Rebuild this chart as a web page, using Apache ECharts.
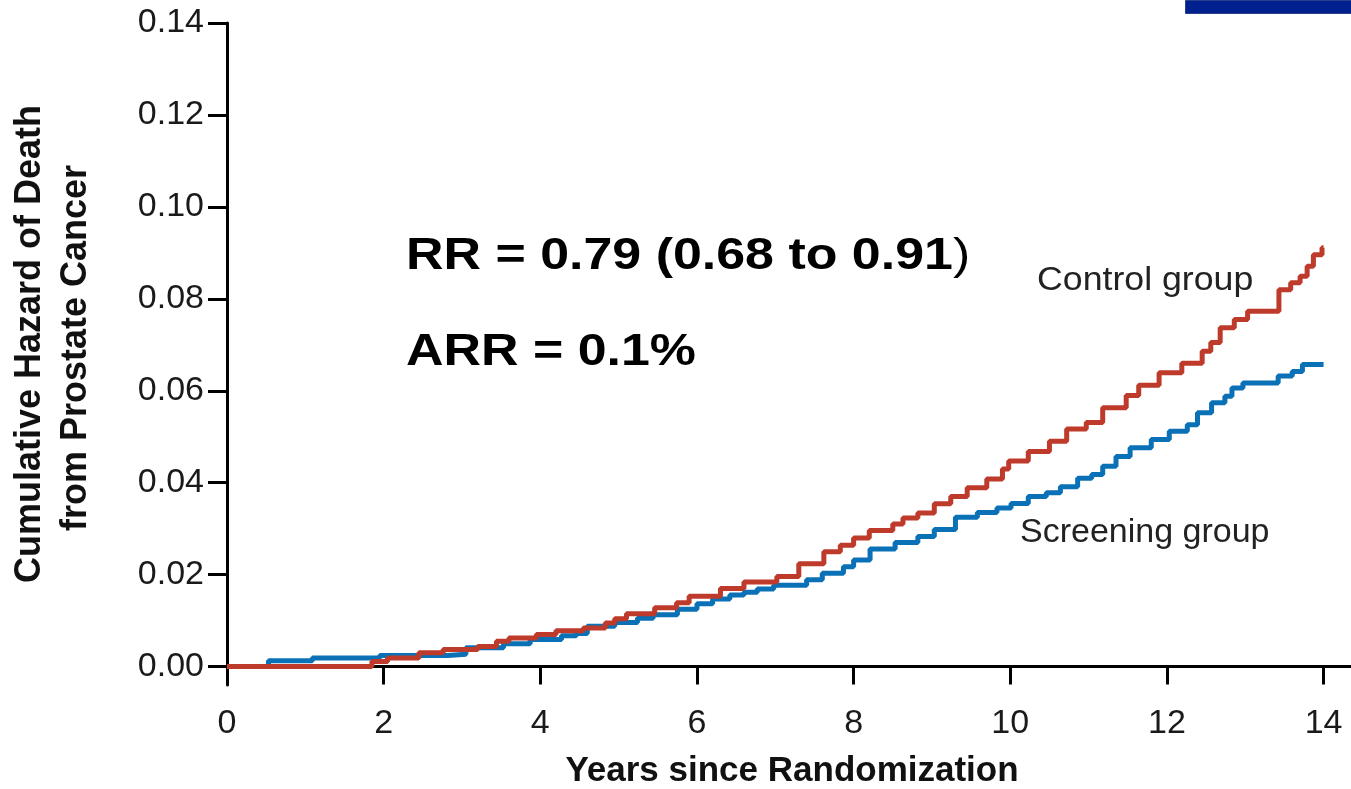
<!DOCTYPE html>
<html>
<head>
    <meta charset="utf-8">
    <title>Cumulative Hazard of Death from Prostate Cancer</title>
    <script src="https://cdn.jsdelivr.net/npm/echarts@6.0.0/dist/echarts.min.js"></script>
    <style>
        html, body { margin: 0; padding: 0; background: #fff; }
        #chart { width: 1351px; height: 789px; }
    </style>
</head>
<body>
<div id="chart"></div>
<script>
    // tick labels
    var xTicks = [0, 2, 4, 6, 8, 10, 12, 14];
    var yTicks = [0, 0.02, 0.04, 0.06, 0.08, 0.10, 0.12, 0.14];

    // control group: step start (years) and cumulative hazard from there on
    var controlYears = [0, 1.85, 2.05, 2.45, 2.76, 3.2, 3.44, 3.6, 3.95, 4.2, 4.55, 4.83, 4.95, 5.1, 5.46, 5.74,
        5.9, 6.3, 6.6, 7.02, 7.3, 7.62, 7.83, 8.0, 8.2, 8.5, 8.63, 8.82, 9.03, 9.24, 9.45, 9.7, 9.9, 9.98,
        10.23, 10.5, 10.72, 10.97, 11.18, 11.48, 11.64, 11.9, 12.19, 12.45, 12.56, 12.68, 12.86, 13.03,
        13.43, 13.58, 13.7, 13.79, 13.87, 13.98, 14.0];
    var controlHazard = [0, 0.0011, 0.0019, 0.0030, 0.0037, 0.0044, 0.0055, 0.0062, 0.0070, 0.0078, 0.0084, 0.0095, 0.0104, 0.0115, 0.0128, 0.0139,
        0.0153, 0.0170, 0.0184, 0.0196, 0.0224, 0.0250, 0.0264, 0.0280, 0.0296, 0.0310, 0.0323, 0.0334, 0.0354, 0.0370, 0.0389, 0.0408, 0.0430, 0.0447,
        0.0468, 0.0490, 0.0517, 0.0531, 0.0563, 0.0590, 0.0612, 0.0639, 0.0660, 0.0686, 0.0705, 0.0737, 0.0755, 0.0773,
        0.0820, 0.0835, 0.0849, 0.0871, 0.0896, 0.0911, 0.0911];

    // screening group
    var screeningYears = [0, 0.53, 1.09, 1.95, 2.82, 3.05, 3.53, 3.87, 4.27, 4.46, 4.6, 4.95, 5.24, 5.44, 5.75, 6.0,
        6.2, 6.42, 6.6, 6.77, 6.98, 7.4, 7.6, 7.87, 8.0, 8.21, 8.53, 8.82, 9.03, 9.3, 9.58, 9.83, 10.01,
        10.23, 10.46, 10.64, 10.86, 11.04, 11.18, 11.35, 11.53, 11.8, 12.03, 12.26, 12.39, 12.57, 12.74,
        12.83, 12.97, 13.42, 13.6, 13.73, 14.0];
    var screeningHazard = [0, 0.0013, 0.0019, 0.0024, 0.0027, 0.0041, 0.0050, 0.0059, 0.0067, 0.0072, 0.0088, 0.0096, 0.0105, 0.0113, 0.0125, 0.0137,
        0.0147, 0.0156, 0.0162, 0.0169, 0.0177, 0.0189, 0.0203, 0.0217, 0.0232, 0.0256, 0.0270, 0.0283, 0.0298, 0.0325, 0.0335, 0.0345, 0.0355,
        0.0370, 0.0378, 0.0391, 0.0410, 0.0418, 0.0436, 0.0457, 0.0476, 0.0494, 0.0512, 0.0526, 0.0552, 0.0574, 0.0588,
        0.0606, 0.0617, 0.0632, 0.0642, 0.0657, 0.0657];

    function pairs(xs, ys) {
        return xs.map(function (x, i) { return [x, ys[i]]; });
    }

    var myChart = echarts.init(document.getElementById('chart'), null, {renderer: 'canvas'});

    var axisFont = 'Liberation Sans, Arial, sans-serif';

    var option = {
        animation: false,
        backgroundColor: '#fff',
        grid: {
            left: 227, right: 0, top: 23, bottom: 104,
            containLabel: false,
            outerBoundsMode: 'none'
        },
        xAxis: {
            type: 'value',
            min: 0,
            max: 14.35,
            axisLine: {show: true, onZero: true, lineStyle: {color: '#000', width: 3}},
            axisTick: {show: true, length: 18, customValues: xTicks, lineStyle: {color: '#000', width: 3}},
            axisLabel: {
                customValues: xTicks,
                margin: 22,
                color: '#1a1a1a',
                fontFamily: axisFont,
                fontSize: 34
            },
            splitLine: {show: false}
        },
        yAxis: {
            type: 'value',
            min: -0.004,
            max: 0.14,
            axisLine: {show: true, onZero: false, lineStyle: {color: '#000', width: 3}},
            axisTick: {show: true, length: 19, customValues: yTicks, lineStyle: {color: '#000', width: 3}},
            axisLabel: {
                customValues: yTicks,
                margin: 23,
                color: '#1a1a1a',
                fontFamily: axisFont,
                fontSize: 34,
                formatter: function (v) { return v.toFixed(2); }
            },
            splitLine: {show: false}
        },
        series: [
            {
                name: 'Screening group',
                type: 'line',
                step: 'end',
                showSymbol: false,
                data: pairs(screeningYears, screeningHazard),
                lineStyle: {color: '#0a71b6', width: 5},
                itemStyle: {color: '#0a71b6'}
            },
            {
                name: 'Control group',
                type: 'line',
                step: 'end',
                showSymbol: false,
                data: pairs(controlYears, controlHazard),
                lineStyle: {color: '#be3a2b', width: 5},
                itemStyle: {color: '#be3a2b'}
            }
        ],
        graphic: [
            // blue bar cut off at the top right
            {type: 'rect', left: 1185, top: 0, shape: {width: 166, height: 13}, style: {fill: '#00208f', stroke: '#2a3f8a', lineWidth: 1}},
            // axis titles
            {
                type: 'text', x: 792, y: 771,
                style: {text: 'Years since Randomization', font: 'bold 35px Liberation Sans, Arial, sans-serif',
                    fill: '#111', textAlign: 'center', textVerticalAlign: 'middle'}
            },
            {
                type: 'text', x: 30, y: 344, rotation: Math.PI / 2,
                style: {text: 'Cumulative Hazard of Death', font: 'bold 36px Liberation Sans, Arial, sans-serif',
                    fill: '#111', textAlign: 'center', textVerticalAlign: 'middle'}
            },
            {
                type: 'text', x: 76, y: 348, rotation: Math.PI / 2,
                style: {text: 'from Prostate Cancer', font: 'bold 36px Liberation Sans, Arial, sans-serif',
                    fill: '#111', textAlign: 'center', textVerticalAlign: 'middle'}
            },
            // statistics
            {
                type: 'text', x: 406, y: 257, scaleX: 1.18,
                style: {
                    text: '{b|RR = 0.79 (0.68 to 0.91}{n|)}',
                    fill: '#000', textAlign: 'left', textVerticalAlign: 'middle',
                    rich: {
                        b: {fontFamily: 'Liberation Sans, Arial, sans-serif', fontWeight: 'bold', fontSize: 44, fill: '#000'},
                        n: {fontFamily: 'Liberation Sans, Arial, sans-serif', fontWeight: 'normal', fontSize: 44, fill: '#000'}
                    }
                }
            },
            {
                type: 'text', x: 406, y: 353, scaleX: 1.18,
                style: {text: 'ARR = 0.1%', font: 'bold 44px Liberation Sans, Arial, sans-serif',
                    fill: '#000', textAlign: 'left', textVerticalAlign: 'middle'}
            },
            // curve labels
            {
                type: 'text', x: 1037, y: 281, scaleX: 1.05,
                style: {text: 'Control group', font: '34px Liberation Sans, Arial, sans-serif',
                    fill: '#222', textAlign: 'left', textVerticalAlign: 'middle'}
            },
            {
                type: 'text', x: 1020, y: 533,
                style: {text: 'Screening group', font: '34px Liberation Sans, Arial, sans-serif',
                    fill: '#222', textAlign: 'left', textVerticalAlign: 'middle'}
            }
        ]
    };

    myChart.setOption(option);
</script>
</body>
</html>
